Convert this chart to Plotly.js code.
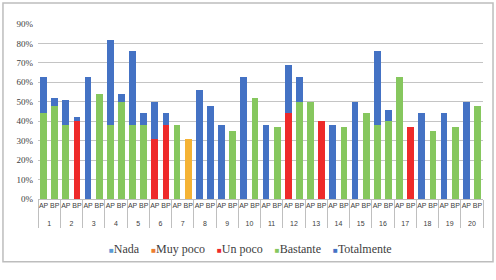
<!DOCTYPE html>
<html>
<head>
<meta charset="utf-8">
<script src="https://cdn.plot.ly/plotly-3.0.1.min.js"></script>
<style>html,body{margin:0;padding:0;background:#fff;}#chart{width:496px;height:280px;}</style>
</head>
<body>
<div id="chart"></div>
<script>
// Items (outer category) and groups (inner category)
const items = ["1","2","3","4","5","6","7","8","9","10","11","12","13","14","15","16","17","18","19","20"];
const groups = ["AP","BP"];

// Stacked percentages per bar, in order: 1AP,1BP,2AP,2BP,...,20AP,20BP
const nada =       [0,0, 0,0, 0,0, 0,0, 0,0, 0,0, 0,0, 0,0, 0,0, 0,0, 0,0, 0,0, 0,0, 0,0, 0,0, 0,0, 0,0, 0,0, 0,0, 0,0];
const muyPoco =    [0,0, 0,0, 0,0, 0,0, 0,0, 0,0, 0,31, 0,0, 0,0, 0,0, 0,0, 0,0, 0,0, 0,0, 0,0, 0,0, 0,0, 0,0, 0,0, 0,0];
const unPoco =     [0,0, 0,40, 0,0, 0,0, 0,0, 31,38, 0,0, 0,0, 0,0, 0,0, 0,0, 44,0, 0,40, 0,0, 0,0, 0,0, 0,37, 0,0, 0,0, 0,0];
const bastante =   [44,48, 38,0, 0,54, 38,50, 38,38, 0,0, 38,0, 0,0, 0,35, 0,52, 0,37, 0,50, 50,0, 0,37, 0,44, 38,40, 63,0, 0,35, 0,37, 0,48];
const totalmente = [19,4, 13,2, 63,0, 44,4, 38,6, 19,6, 0,0, 56,48, 38,0, 63,0, 38,0, 25,13, 0,0, 38,0, 50,0, 38,6, 0,0, 44,0, 44,0, 50,0];

const seriesNames = ["Nada","Muy poco","Un poco","Bastante","Totalmente"];
const seriesValues = [nada, muyPoco, unPoco, bastante, totalmente];
const seriesColors = ["#5B9BD5","#ED7D31","#EE2A2A","#86C75E","#4472C4"];
const barColors =    ["#5B9BD5","#F5B335","#EE2A2A","#86C75E","#4472C4"];

// Inner labels get a blank second line so the item numbers sit lower, as in the reference
const outer = [], inner = [];
items.forEach(it => groups.forEach(g => { outer.push(it); inner.push(g + "<br>&nbsp;"); }));

const traces = seriesNames.map((n, i) => ({
  type: "bar",
  name: n,
  x: [outer, inner],
  y: seriesValues[i],
  marker: {color: barColors[i]},
  hoverinfo: "skip"
}));

// Compact Excel-style legend: small square + label, built from the series arrays
const legendText = seriesNames.map((n, i) =>
  '<span style="color:' + seriesColors[i] + ';font-size:8px">■</span>' + n
).join('&nbsp;&nbsp;&nbsp;&nbsp;');

const layout = {
  width: 496, height: 280,
  margin: {l: 38, r: 13, t: 24, b: 81},
  barmode: "stack",
  bargap: 0.4,
  paper_bgcolor: "#ffffff",
  plot_bgcolor: "#ffffff",
  showlegend: false,
  xaxis: {
    type: "multicategory",
    showdividers: true,
    dividercolor: "#BFBFBF",
    dividerwidth: 1,
    showline: true,
    linecolor: "#BFBFBF",
    linewidth: 1,
    tickangle: 0,
    tickfont: {family: "Liberation Sans Narrow, Liberation Sans", size: 7, color: "#404040"},
    ticks: "",
    fixedrange: true
  },
  yaxis: {
    range: [0, 90],
    dtick: 10,
    ticksuffix: "%",
    showgrid: true,
    gridcolor: "#C4C4C4",
    gridwidth: 1,
    zeroline: false,
    showline: false,
    tickfont: {family: "Liberation Serif", size: 9, color: "#404040"},
    ticklen: 0,
    ticklabelstandoff: 4,
    fixedrange: true
  },
  annotations: [{
    xref: "paper", yref: "paper",
    x: 0.478, y: -0.283, xanchor: "center", yanchor: "middle",
    showarrow: false,
    text: legendText,
    font: {family: "Liberation Serif", size: 12, color: "#404040"}
  }],
  shapes: [{
    type: "rect", xref: "paper", yref: "paper",
    x0: -0.0787, x1: 1.0225, y0: -0.358, y1: 1.12,
    line: {color: "#BDBDBD", width: 1.5},
    fillcolor: "rgba(0,0,0,0)",
    layer: "below"
  }]
};

Plotly.newPlot("chart", traces, layout, {displayModeBar: false, staticPlot: true});
</script>
</body>
</html>
